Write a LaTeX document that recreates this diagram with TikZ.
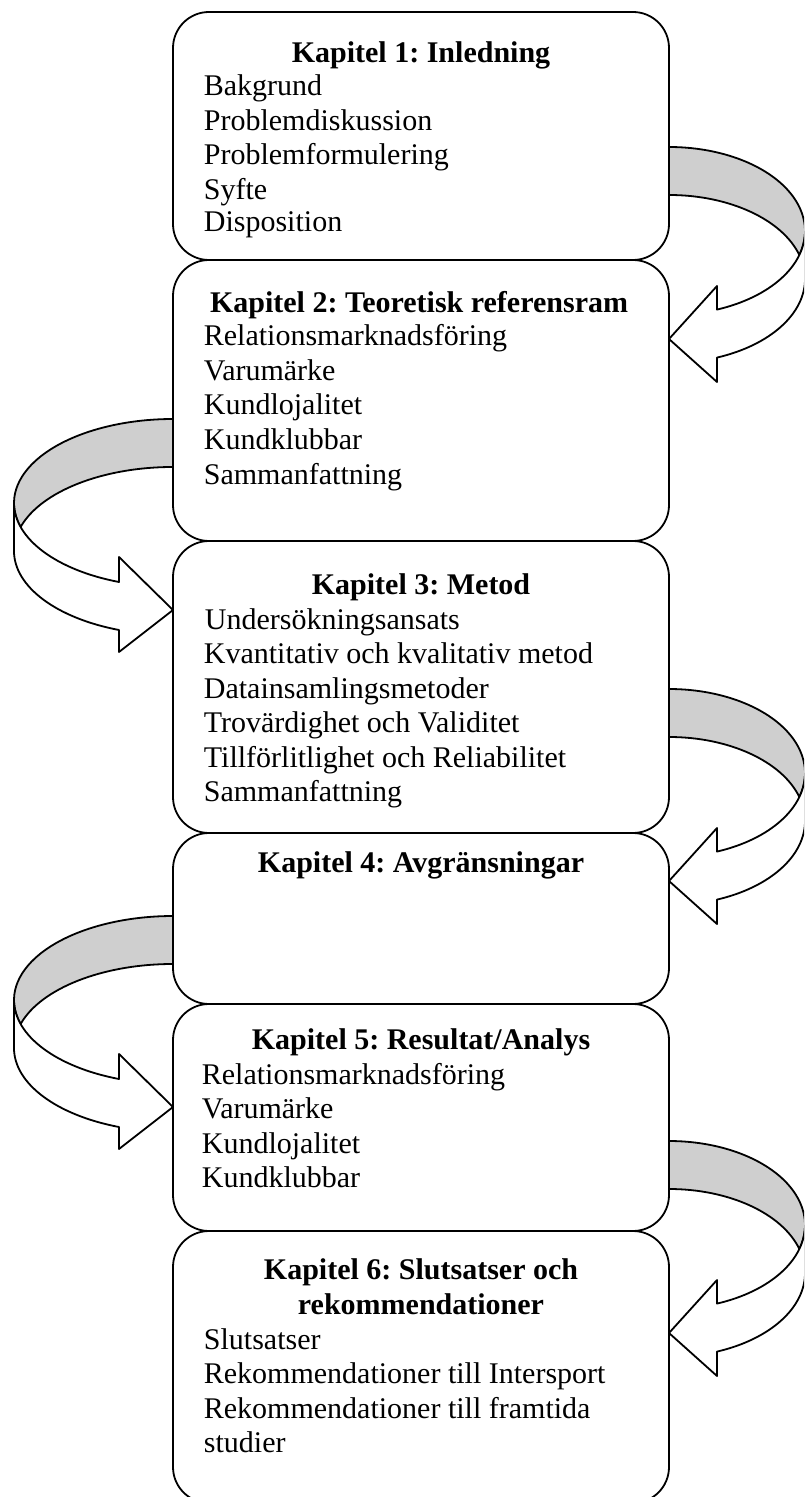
\documentclass[tikz,border=0pt]{standalone}
\usepackage{fontspec}
\setmainfont{Liberation Serif}
\frenchspacing
\definecolor{bandgray}{RGB}{207,207,207}
\newcommand{\rightuturn}[1]{%
  \draw[back] (669,#1) arc[start angle=-90, end angle=16.6, x radius=136, y radius=84]
     arc[start angle=-16.6, end angle=-90, x radius=136, y radius=84] -- cycle;
  \draw[front] (805,#1+84) arc[start angle=0, end angle=69.33, x radius=136, y radius=84]
     -- (717,#1+139) -- (669,#1+192) -- (717,#1+235) -- (717,#1+210.6)
     arc[start angle=69.33, end angle=0, x radius=136, y radius=84] -- cycle;}
\newcommand{\leftuturn}[1]{%
  \draw[back] (173,#1) arc[start angle=270, end angle=163.4, x radius=159, y radius=84]
     arc[start angle=196.6, end angle=270, x radius=159, y radius=84] -- cycle;
  \draw[front] (14,#1+84) arc[start angle=180, end angle=109.85, x radius=159, y radius=84]
     -- (119,#1+138) -- (173,#1+191) -- (119,#1+233) -- (119,#1+211)
     arc[start angle=109.85, end angle=180, x radius=159, y radius=84] -- cycle;}
\begin{document}
\begin{tikzpicture}[x=0.5pt,y=-0.5pt, line width=0.9pt, line join=round,
  box/.style={draw, fill=white, rounded corners=18pt, minimum width=248pt, inner sep=0pt},
  title/.style={anchor=base, inner sep=0pt, font=\fontsize{15}{17.25}\selectfont\bfseries},
  item/.style={anchor=base west, inner sep=0pt, font=\fontsize{15}{17.25}\selectfont},
  back/.style={draw, fill=bandgray},
  front/.style={draw, fill=white}]
\clip (0,0) rectangle (804,1497);
% boxes
\node[box, minimum height=124pt] (b1) at (421,136) {};
\node[box, minimum height=140.5pt] (b2) at (421,400.5) {};
\node[box, minimum height=146pt] (b3) at (421,687) {};
\node[box, minimum height=85.5pt] (b4) at (421,918.5) {};
\node[box, minimum height=113.5pt] (b5) at (421,1117.5) {};
\node[box, minimum height=136pt] (b6) at (421,1367) {};
% box 1
\node[title] (t1) at (421,63) {Kapitel 1: Inledning};
\node[item] (i11) at (203,96) {Bakgrund};
\node[item] (i12) at (203,130.5) {Problemdiskussion};
\node[item] (i13) at (203,165) {Problemformulering};
\node[item] (i14) at (203,199.5) {Syfte};
\node[item] (i15) at (203,232) {Disposition};
% box 2
\node[title] (t2) at (419,313) {Kapitel 2: Teoretisk referensram};
\node[item] (i21) at (203,346) {Relationsmarknadsföring};
\node[item] (i22) at (203,380.5) {Varumärke};
\node[item] (i23) at (203,415) {Kundlojalitet};
\node[item] (i24) at (203,449.5) {Kundklubbar};
\node[item] (i25) at (203,484) {Sammanfattning};
% box 3
\node[title] (t3) at (421,594) {Kapitel 3: Metod};
\node[item] (i31) at (204,629) {Undersökningsansats};
\node[item] (i32) at (203,663.5) {Kvantitativ och kvalitativ metod};
\node[item] (i33) at (203,698) {Datainsamlingsmetoder};
\node[item] (i34) at (203,732.5) {Trovärdighet och Validitet};
\node[item] (i35) at (203,767) {Tillförlitlighet och Reliabilitet};
\node[item] (i36) at (203,801.5) {Sammanfattning};
% box 4
\node[title] (t4) at (421,872) {Kapitel 4: Avgränsningar};
% box 5
\node[title] (t5) at (421,1049) {Kapitel 5: Resultat/Analys};
\node[item] (i51) at (201,1084) {Relationsmarknadsföring};
\node[item] (i52) at (201,1118.5) {Varumärke};
\node[item] (i53) at (201,1153) {Kundlojalitet};
\node[item] (i54) at (201,1187.5) {Kundklubbar};
% box 6
\node[title] (t6a) at (421,1279) {Kapitel 6: Slutsatser och};
\node[title] (t6b) at (421,1314) {rekommendationer};
\node[item] (i61) at (203,1349) {Slutsatser};
\node[item] (i62) at (203,1383.5) {Rekommendationer till Intersport};
\node[item] (i63) at (203,1418) {Rekommendationer till framtida};
\node[item] (i64) at (203,1452.5) {studier};
% curved block arrows
\rightuturn{147}
\leftuturn{419}
\rightuturn{689}
\leftuturn{916}
\rightuturn{1141}
\end{tikzpicture}
\end{document}
